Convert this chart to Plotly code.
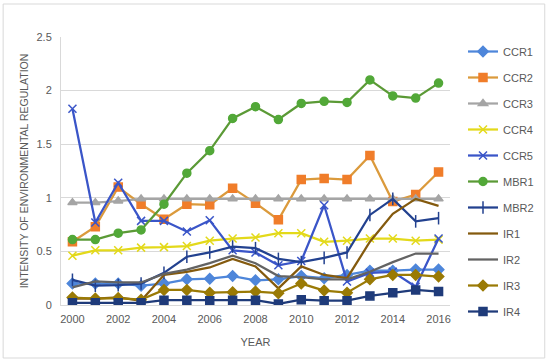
import plotly.graph_objects as go

years = list(range(2000, 2017))

CCR1 = [0.20, 0.20, 0.20, 0.18, 0.20, 0.24, 0.245, 0.27, 0.23, 0.24, 0.27, 0.25, 0.28, 0.32, 0.32, 0.33, 0.33]
CCR2 = [0.59, 0.73, 1.10, 0.94, 0.80, 0.94, 0.935, 1.09, 0.95, 0.795, 1.17, 1.18, 1.17, 1.395, 0.965, 1.03, 1.24]
CCR3 = [0.955, 0.955, 0.97, 0.99, 0.99, 0.99, 0.99, 0.99, 0.99, 0.99, 0.99, 0.99, 0.99, 0.99, 0.99, 0.99, 0.99]
CCR4 = [0.46, 0.51, 0.51, 0.535, 0.54, 0.55, 0.60, 0.62, 0.63, 0.67, 0.67, 0.59, 0.60, 0.62, 0.62, 0.60, 0.61]
CCR5 = [1.83, 0.77, 1.14, 0.785, 0.785, 0.685, 0.79, 0.51, 0.49, 0.37, 0.41, 0.93, 0.22, 0.30, 0.31, 0.17, 0.62]
MBR1 = [0.61, 0.61, 0.67, 0.70, 0.94, 1.23, 1.44, 1.74, 1.85, 1.73, 1.88, 1.90, 1.89, 2.10, 1.95, 1.93, 2.07]
MBR2 = [0.235, 0.18, 0.185, 0.20, 0.30, 0.45, 0.49, 0.545, 0.53, 0.43, 0.40, 0.44, 0.49, 0.84, 0.99, 0.78, 0.81]
IR1 = [0.06, 0.06, 0.07, 0.04, 0.28, 0.31, 0.35, 0.43, 0.36, 0.155, 0.36, 0.28, 0.25, 0.59, 0.85, 0.99, 0.925]
IR2 = [0.165, 0.22, 0.21, 0.21, 0.29, 0.33, 0.39, 0.46, 0.39, 0.27, 0.26, 0.24, 0.24, 0.31, 0.40, 0.48, 0.48]
IR3 = [0.07, 0.06, 0.065, 0.05, 0.14, 0.14, 0.115, 0.12, 0.125, 0.11, 0.20, 0.135, 0.115, 0.24, 0.28, 0.28, 0.265]
IR4 = [0.02, 0.02, 0.02, 0.02, 0.045, 0.045, 0.04, 0.045, 0.045, 0.01, 0.05, 0.04, 0.04, 0.085, 0.115, 0.14, 0.125]

series = [
    ("CCR1", CCR1, "#4E86DA", "#4E86DA", "diamond", 8),
    ("CCR2", CCR2, "#DB9A3C", "#F07D2A", "square", 8),
    ("CCR3", CCR3, "#A5A5A5", "#A5A5A5", "triangle-up", 8),
    ("CCR4", CCR4, "#E3D91A", "#E3D91A", "x-thin-open", 8),
    ("CCR5", CCR5, "#3A55C8", "#3A55C8", "x-thin-open", 8),
    ("MBR1", MBR1, "#5B9A36", "#52A838", "circle", 8),
    ("MBR2", MBR2, "#22418F", "#22418F", "line-ns-open", 9),
    ("IR1", IR1, "#845A0E", "#845A0E", None, 0),
    ("IR2", IR2, "#636363", "#636363", None, 0),
    ("IR3", IR3, "#9A7A05", "#9A7A05", "diamond", 8),
    ("IR4", IR4, "#1F3B7A", "#1F3B7A", "square", 8),
]

fig = go.Figure()
for name, vals, lc, mc, sym, ms in series:
    if sym is None:
        fig.add_trace(go.Scatter(x=years, y=vals, name=name, mode="lines",
                                 line=dict(color=lc, width=2.25), legendgroup=name))
    else:
        fig.add_trace(go.Scatter(x=years, y=vals, name=name, mode="lines+markers",
                                 line=dict(color=lc, width=2.25),
                                 marker=dict(symbol=sym, size=ms, color=mc,
                                             line=dict(color=mc, width=1.5)),
                                 legendgroup=name))

axis_font = dict(family="Liberation Sans, Arial, sans-serif", size=11, color="#595959")

L, R, T, B = 61, 99, 37, 58
PW, PH = 550 - L - R, 363 - T - B

fig.update_layout(
    width=550, height=363,
    paper_bgcolor="white", plot_bgcolor="white",
    margin=dict(l=L, r=R, t=T, b=B),
    font=dict(family="Liberation Sans, Arial, sans-serif", color="#595959"),
    xaxis=dict(range=[1999.5, 2016.5], tickvals=list(range(2000, 2017, 2)),
               showgrid=False, zeroline=False, showline=True, linecolor="#D9D9D9",
               linewidth=1, ticks="", tickfont=axis_font, ticklabelstandoff=4,
               title=dict(text="YEAR", font=dict(size=11, color="#595959"), standoff=14)),
    yaxis=dict(range=[0, 2.5], tickvals=[0, 0.5, 1, 1.5, 2, 2.5],
               ticktext=["0", "0.5", "1", "1.5", "2", "2.5"],
               showgrid=True, gridcolor="#D9D9D9", gridwidth=1,
               zeroline=False, showline=True, linecolor="#D9D9D9", ticks="",
               tickfont=axis_font, ticklabelstandoff=6,
               title=dict(text="INTENSITY OF ENVIRONMENTAL REGULATION",
                          font=dict(size=10.5, color="#595959"), standoff=5)),
    legend=dict(x=(463 - L) / PW, xanchor="left", y=(363 - B - 37) / PH, yanchor="top",
                font=dict(size=11, color="#595959"), tracegroupgap=7,
                traceorder="grouped", itemwidth=30, bgcolor="rgba(0,0,0,0)",
                maxheight=400),
    shapes=[dict(type="rect", xref="paper", yref="paper",
                 x0=(3 - L) / PW, x1=(546 - L) / PW,
                 y0=(363 - B - 358) / PH, y1=(363 - B - 4) / PH,
                 line=dict(color="#D9D9D9", width=1), layer="above")],
)

fig.write_html("out.html", config={"displayModeBar": False},
               post_script="document.body.style.margin='0';document.body.style.padding='0';")
